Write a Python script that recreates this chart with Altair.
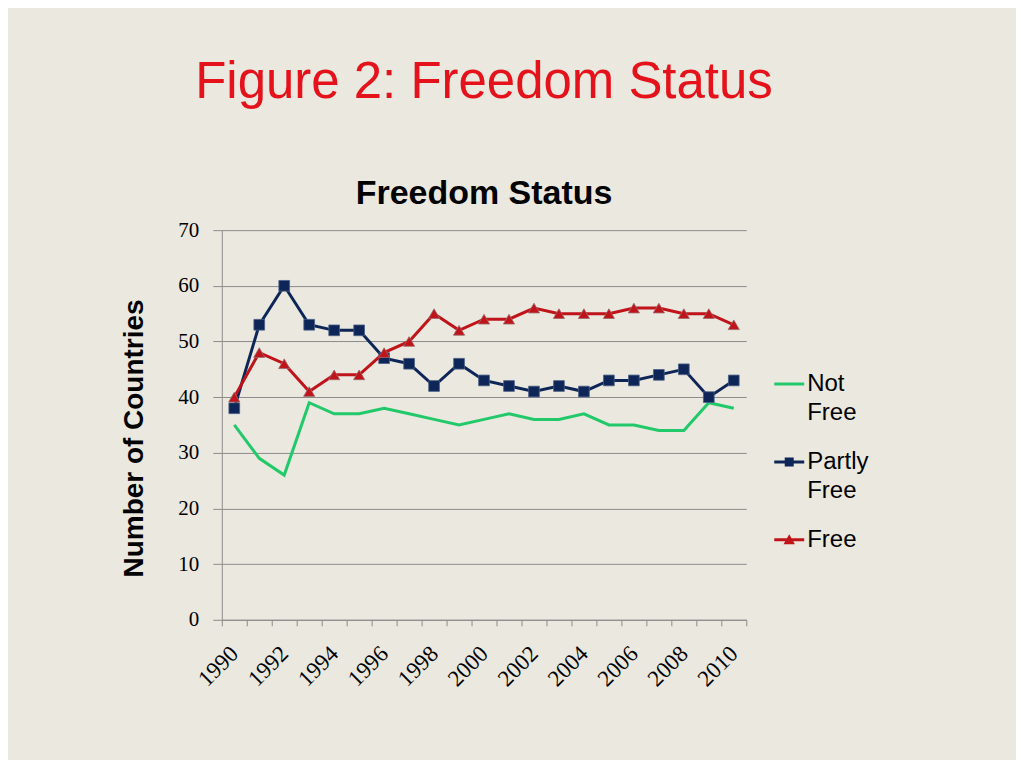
import altair as alt
import pandas as pd

years = list(range(1990, 2011))
not_free = [35, 29, 26, 39, 37, 37, 38, 37, 36, 35, 36, 37, 36, 36, 37, 35, 35, 34, 34, 39, 38]
partly_free = [38, 53, 60, 53, 52, 52, 47, 46, 42, 46, 43, 42, 41, 42, 41, 43, 43, 44, 45, 40, 43]
free = [40, 48, 46, 41, 44, 44, 48, 50, 55, 52, 54, 54, 56, 55, 55, 55, 56, 56, 55, 55, 53]

series = ["Not Free", "Partly Free", "Free"]
colors = ["#22C96B", "#0E2657", "#C0131A"]
y_ticks = [0, 10, 20, 30, 40, 50, 60, 70]
x_ticks = [1989.5 + i for i in range(22)]

rows = []
for name, vals in zip(series, [not_free, partly_free, free]):
    for yr, v in zip(years, vals):
        rows.append({"year": yr, "value": v, "status": name})
df = pd.DataFrame(rows)

GRAY = "#8C8C8C"
SERIF = "Liberation Serif"
SANS = "Liberation Sans"

x_enc = alt.X(
    "year:Q",
    scale=alt.Scale(domain=[1989.5, 2010.5], nice=False, zero=False),
    axis=alt.Axis(
        values=x_ticks,
        labelExpr="(datum.value - 1989.5) % 2 == 0 && datum.value < 2010 ? format(datum.value + 0.5, 'd') : ''",
        labelOffset=12.5,
        labelAngle=315,
        labelAlign="right",
        labelBaseline="middle",
        labelPadding=24,
        labelFont=SERIF,
        labelFontSize=23,
        labelColor="#000000",
        labelOverlap=False,
        labelFlush=False,
        labelBound=False,
        grid=False,
        ticks=True,
        tickSize=6,
        tickColor=GRAY,
        domainColor=GRAY,
        title=None,
    ),
)
y_enc = alt.Y(
    "value:Q",
    scale=alt.Scale(domain=[0, 70], nice=False),
    axis=alt.Axis(
        values=y_ticks,
        labelFont=SERIF,
        labelFontSize=21,
        labelColor="#000000",
        labelPadding=14,
        tickSize=9,
        tickColor=GRAY,
        domainColor=GRAY,
        grid=True,
        gridColor=GRAY,
        title="Number of Countries",
        titleFont=SANS,
        titleFontSize=28,
        titleFontWeight="bold",
        titleColor="#000000",
        titleX=-87,
        titleY=208,
        titleAngle=270,
        titleBaseline="middle",
        titleAlign="center",
    ),
)

color_scale = alt.Scale(domain=series, range=colors)
legend_shapes = [
    "M-1,-0.1H1V0.1H-1Z",
    "M-1,-0.1H1V0.1H-1Z M-0.3,-0.3H0.3V0.3H-0.3Z",
    "M-1,-0.1H1V0.1H-1Z M0,-0.38L0.38,0.3H-0.38Z",
]

base = alt.Chart(df)

label_expr = (
    "datum.label == 'Not Free' ? ['Not', 'Free'] : "
    "datum.label == 'Partly Free' ? ['Partly', 'Free'] : 'Free'"
)
legend = alt.Legend(
    title=None,
    orient="none",
    legendX=553,
    legendY=139,
    symbolSize=900,
    symbolStrokeWidth=0,
    symbolOpacity=1,
    labelExpr=label_expr,
    labelFont=SANS,
    labelFontSize=24,
    labelColor="#000000",
    labelOffset=3,
    labelBaseline="middle",
    rowPadding=22,
    labelLimit=300,
)
# legend layer first so that its legend settings win the merge
legend_layer = base.mark_point(filled=True, opacity=0).encode(
    x=x_enc, y=y_enc,
    color=alt.Color("status:N", scale=color_scale, legend=legend),
    shape=alt.Shape("status:N", scale=alt.Scale(domain=series, range=legend_shapes), legend=legend),
)
layers = [legend_layer]

for name, col in zip(series, colors):
    sub = base.transform_filter(alt.datum.status == name)
    layers.append(
        sub.mark_line(strokeWidth=3).encode(
            x=x_enc, y=y_enc,
            color=alt.Color("status:N", scale=color_scale, legend=None),
        )
    )
    if name == "Partly Free":
        layers.append(
            sub.mark_point(shape="square", filled=True, size=115, stroke="#4A5E86", strokeWidth=0.8, opacity=1).encode(
                x=x_enc, y=y_enc,
                color=alt.Color("status:N", scale=color_scale, legend=None),
            )
        )
    if name == "Free":
        layers.append(
            sub.mark_point(shape="triangle-up", filled=True, size=125, stroke="#9A6A6A", strokeWidth=0.8, opacity=1).encode(
                x=x_enc, y=y_enc,
                color=alt.Color("status:N", scale=color_scale, legend=None),
            )
        )

chart = (
    alt.layer(*layers)
    .properties(
        width=525,
        height=390,
        padding={"left": 214, "top": 222, "right": 270, "bottom": 140},
        autosize=alt.AutoSizeParams(type="none"),
        title=alt.TitleParams(
            text="Figure 2: Freedom Status",
            subtitle="Freedom Status",
            anchor="middle",
            font=SANS,
            fontSize=51,
            fontWeight="normal",
            color="#E5121B",
            subtitleFont=SANS,
            subtitleFontSize=34,
            subtitleFontWeight="bold",
            subtitleColor="#000000",
            subtitlePadding=68,
            offset=7,
        ),
    )
    .configure(background="#EAE8DF", style={"guide-label": {"lineHeight": 29}})
    .configure_view(stroke=None)
)

chart.save("out.html", embed_options={"renderer": "svg", "actions": False})
